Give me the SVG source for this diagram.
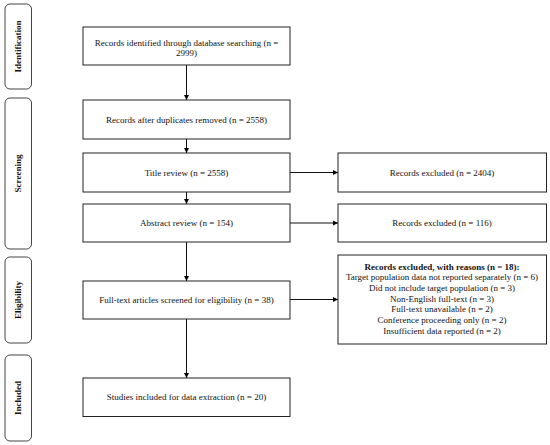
<svg xmlns="http://www.w3.org/2000/svg" width="550" height="445" viewBox="0 0 550 445">
<defs>
<marker id="ah" markerWidth="6" markerHeight="6" refX="5" refY="3" orient="auto" markerUnits="userSpaceOnUse">
<path d="M0,0.5 L5,3 L0,5.5 Z" fill="#000"/>
</marker>
<style>
.box{fill:#fff;stroke:#222;stroke-width:1}
.phase{fill:#fff;stroke:#444;stroke-width:1}
.t{font-family:"Liberation Serif",serif;font-size:9px;fill:#111;text-anchor:middle}
.b{font-weight:bold}
.p{font-family:"Liberation Serif",serif;font-size:9px;font-weight:bold;fill:#111;text-anchor:middle}
.c{stroke:#111;stroke-width:1;fill:none;marker-end:url(#ah)}
</style>
</defs>
<rect width="550" height="445" fill="#fff"/>
<g id="phase-identification"><rect class="phase" x="5" y="4" width="26.5" height="85" rx="5"/><text class="p" transform="translate(21,46.5) rotate(-90)">Identification</text></g>
<g id="phase-screening"><rect class="phase" x="5" y="98" width="26.5" height="151" rx="5"/><text class="p" transform="translate(21,173.5) rotate(-90)">Screening</text></g>
<g id="phase-eligibility"><rect class="phase" x="5" y="257" width="26.5" height="86" rx="5"/><text class="p" transform="translate(21,300) rotate(-90)">Eligibility</text></g>
<g id="phase-included"><rect class="phase" x="5" y="355" width="26.5" height="86" rx="5"/><text class="p" transform="translate(21,398) rotate(-90)">Included</text></g>

<g id="connectors">
<line class="c" x1="186.5" y1="65" x2="186.5" y2="100"/>
<line class="c" x1="186.5" y1="139" x2="186.5" y2="153"/>
<line class="c" x1="186.5" y1="192" x2="186.5" y2="204"/>
<line class="c" x1="186.5" y1="242" x2="186.5" y2="281"/>
<line class="c" x1="186.5" y1="319" x2="186.5" y2="378"/>
<line class="c" x1="290" y1="172.5" x2="338" y2="172.5"/>
<line class="c" x1="290" y1="223" x2="338" y2="223"/>
<line class="c" x1="290" y1="299.5" x2="338" y2="299.5"/>
</g>

<g id="n1"><rect class="box" x="83" y="27" width="207" height="38"/><text class="t" x="186.5" y="45.5">Records identified through database searching (n =</text><text class="t" x="186.5" y="55.5">2999)</text></g>
<g id="n2"><rect class="box" x="83" y="100" width="207" height="39"/><text class="t" x="186.5" y="122.5">Records after duplicates removed (n = 2558)</text></g>
<g id="n3"><rect class="box" x="83" y="153" width="207" height="39"/><text class="t" x="186.5" y="175.5">Title review (n = 2558)</text></g>
<g id="n4"><rect class="box" x="83" y="204" width="207" height="38"/><text class="t" x="186.5" y="226">Abstract review (n = 154)</text></g>
<g id="n5"><rect class="box" x="83" y="281" width="207" height="38"/><text class="t" x="186.5" y="303">Full-text articles screened for eligibility (n = 38)</text></g>
<g id="n6"><rect class="box" x="83" y="378" width="207" height="38.5"/><text class="t" x="186.5" y="400">Studies included for data extraction (n = 20)</text></g>

<g id="x1"><rect class="box" x="338" y="153" width="208.5" height="39"/><text class="t" x="442" y="175.5">Records excluded (n = 2404)</text></g>
<g id="x2"><rect class="box" x="338" y="204" width="208.5" height="38"/><text class="t" x="442" y="226">Records excluded (n = 116)</text></g>
<g id="x3"><rect class="box" x="338" y="255" width="208.5" height="89"/>
<text class="t b" x="442" y="269.5">Records excluded, with reasons (n = 18):</text>
<text class="t" x="442" y="280.2">Target population data not reported separately (n = 6)</text>
<text class="t" x="442" y="290.9">Did not include target population (n = 3)</text>
<text class="t" x="442" y="301.6">Non-English full-text (n = 3)</text>
<text class="t" x="442" y="312.3">Full-text unavailable (n = 2)</text>
<text class="t" x="442" y="323">Conference proceeding only (n = 2)</text>
<text class="t" x="442" y="333.7">Insufficient data reported (n = 2)</text>
</g>
</svg>
